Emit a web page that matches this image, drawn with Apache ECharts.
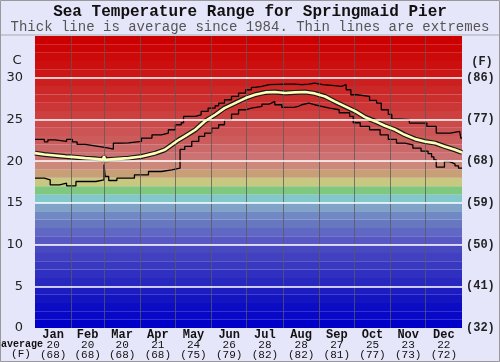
<!DOCTYPE html>
<html><head><meta charset="utf-8">
<script src="https://cdn.jsdelivr.net/npm/echarts@6/dist/echarts.min.js"></script>
<style>html,body{margin:0;padding:0;background:#e6e6fa}#c{width:500px;height:362px}</style>
</head><body><div id="c"></div><script>
// ---------- data ----------
var months = ['Jan','Feb','Mar','Apr','May','Jun','Jul','Aug','Sep','Oct','Nov','Dec'];
var monthMidDays = [15.5,45,74.5,105,135.5,166,196.5,227.5,258,288.5,319,349.5];
var monthStartDays = [31,59,90,120,151,181,212,243,273,304,334];
var monthAvgC = [20,20,20,21,24,26,28,28,27,25,23,22];
var monthAvgF = [68,68,68,68,75,79,82,82,81,77,73,72];
var yTicksC = [0,5,10,15,20,25,30];

var avgDays = [0,8,17,26,34,43,51,58,59,60,68,80,91,103,111,117,123,128,137,145,154,162,171,180,188,197,205,214,222,231,239,248,256,265,274,282,291,299,308,316,325,333,342,350,359,365];
var avgTemps = [20.96,20.8,20.68,20.56,20.48,20.36,20.28,20.18,20.55,20.16,20.24,20.36,20.56,20.96,21.36,21.96,22.56,22.96,23.76,24.76,25.56,26.36,26.96,27.56,27.96,28.24,28.28,28.16,28.24,28.28,28.12,27.75,27.16,26.56,25.96,25.28,24.76,24.24,23.76,23.16,22.64,22.36,22.16,21.76,21.36,21.04];

var maxDays = [0,8,11,17,27,32,36,43,51,58,63,67,74,80,91,100,108,114,120,125,127,137,142,148,154,157,162,168,174,180,185,188,194,200,214,222,228,234,239,246,256,262,266,270,275,286,292,296,302,305,312,320,335,343,355,363,364,365];
var maxTemps = [22.6,22.3,22.56,22.36,22.6,22.3,22.0,21.84,21.68,21.56,21.44,22.16,22.2,22.36,22.76,23.16,23.36,23.76,24.36,24.6,25.36,25.56,25.96,26.36,26.64,26.96,27.36,27.76,28.16,28.56,28.84,28.96,29.16,29.24,29.24,29.16,29.24,29.36,29.16,29.04,28.96,29.16,28.56,27.96,27.76,27.28,26.96,26.16,25.6,25.04,24.96,24.56,24.16,23.36,23.56,23.36,22.76,22.76];

var minDays = [0,8,13,21,27,35,52,59,60,63,70,85,97,108,117,124,128,134,140,145,151,157,162,168,174,180,185,194,200,202,205,211,217,222,225,228,234,239,245,252,260,269,272,278,286,295,302,309,316,323,330,336,339,341,343,350,353,356,359,362,365];
var minTemps = [17.96,17.76,17.16,17.36,17.04,17.56,17.76,19.6,18.16,17.68,17.96,18.36,18.76,18.96,19.16,21.4,21.76,22.36,22.96,23.36,23.96,24.36,24.96,25.64,26.16,26.36,26.56,26.84,26.96,27.16,26.76,26.44,26.48,26.56,26.76,26.96,26.76,26.56,26.36,26.16,25.8,25.36,24.6,24.16,23.76,23.16,22.6,22.16,21.96,21.56,21.2,20.9,20.5,20.16,19.28,19.96,19.84,19.68,19.44,19.16,19.16];

// ---------- styles ----------
var bandColors = [ // from 0-1 C upward to 34-35 C
 '#0000c8','#0808c8','#0c0cc4','#1414c0','#1c1cc0','#2828c0','#3030c0','#3838c0','#4040c0','#4848c0',
 '#5858c4','#6068c4','#6878c0','#7088c4','#80a4c8','#80c8cc','#80c880','#c8c880','#c8a078','#cc8878',
 '#cc7272','#cc6868','#cc5c5c','#cc5454','#cc4a4a','#cc4040','#cc3636','#cc2e2e','#cc2828','#cc2020',
 '#cc1616','#cc1010','#cc0a0a','#cc0404','#cc0000'];

function zip(a,b){ return a.map(function(v,i){ return [v,b[i]]; }); }

var chart = echarts.init(document.getElementById('c'));
var bands = bandColors.map(function(c,i){ return [{yAxis:i, itemStyle:{color:c}},{yAxis:i+1}]; });
var gridLines = monthStartDays.map(function(d){ return {xAxis:d, lineStyle:{color:'#5a5a5a', width:1, opacity:0.75, type:'solid'}}; })
  .concat([5,10,15,20,25,30].map(function(v){ return {yAxis:v, lineStyle:{color:'#ffffff', width:1.5, type:'solid'}}; }));

var mono = 'Liberation Mono';
chart.setOption({
  animation:false,
  backgroundColor:'#e6e6fa',
  grid:{left:35, right:38, top:36, bottom:34},
  xAxis:{type:'value', min:0, max:365, splitLine:{show:false}, axisLine:{show:false}, axisTick:{show:false},
    axisLabel:{customValues:monthMidDays, margin:1,
      formatter:function(v){ var b=0; for(var k=0;k<monthMidDays.length;k++){ if(Math.abs(monthMidDays[k]-v)<Math.abs(monthMidDays[b]-v)) b=k; }
        return '{m|'+months[b]+'}\n{v|'+monthAvgC[b]+'}\n{f|('+monthAvgF[b]+')}'; },
      rich:{ m:{fontFamily:mono, fontWeight:'bold', fontSize:12, lineHeight:11, color:'#111'},
             v:{fontFamily:mono, fontSize:11, lineHeight:10, color:'#111'},
             f:{fontFamily:mono, fontSize:11, lineHeight:10, color:'#111'} } } },
  yAxis:[
    {type:'value', min:0, max:35, interval:5, position:'left', splitLine:{show:false}, axisLine:{show:false}, axisTick:{show:false},
     axisLabel:{margin:12, fontFamily:'DejaVu Sans', fontSize:13, color:'#222', formatter:function(v){ return yTicksC.indexOf(v)>=0 ? String(v) : ''; }}},
    {type:'value', min:0, max:35, interval:5, position:'right', splitLine:{show:false}, axisLine:{show:false}, axisTick:{show:false},
     axisLabel:{margin:4, fontFamily:mono, fontWeight:'bold', fontSize:12, color:'#222', formatter:function(v){ return yTicksC.indexOf(v)>=0 ? '('+Math.round(v*9/5+32)+')' : ''; }}}
  ],
  series:[
    {type:'line', z:1, silent:true, data:[[0,0]], symbol:'none', lineStyle:{opacity:0},
     markArea:{silent:true, data:bands}},
    {type:'line', z:2, silent:true, data:[[0,0]], symbol:'none', lineStyle:{opacity:0},
     markLine:{silent:true, symbol:'none', label:{show:false}, data:gridLines}},
    {type:'line', z:3, data:zip(maxDays,maxTemps), step:'end', symbol:'none', lineStyle:{color:'#000', width:1.3}},
    {type:'line', z:3, data:zip(minDays,minTemps), step:'end', symbol:'none', lineStyle:{color:'#000', width:1.3}},
    {type:'line', z:4, data:zip(avgDays,avgTemps), symbol:'none', lineStyle:{color:'#1a1a1a', width:5}},
    {type:'line', z:5, data:zip(avgDays,avgTemps), symbol:'none', lineStyle:{color:'#ffffb8', width:2.6}}
  ],
  graphic:[
    {type:'line', shape:{x1:0,y1:35,x2:500,y2:35}, style:{stroke:'#aaaaaa', lineWidth:1}, z:-1},
    {type:'rect', shape:{x:0.5,y:0.5,width:499,height:361}, style:{fill:null, stroke:'#999', lineWidth:1}},
    {type:'text', x:250, y:12, style:{text:'Sea Temperature Range for Springmaid Pier', font:'bold 16px "Liberation Mono"', fill:'#111', align:'center', verticalAlign:'middle'}},
    {type:'text', x:250, y:27, style:{text:'Thick line is average since 1984. Thin lines are extremes', font:'14px "Liberation Mono"', fill:'#555', align:'center', verticalAlign:'middle'}},
    {type:'text', x:17, y:61, style:{text:'C', font:'13px "DejaVu Sans"', fill:'#222', align:'center', verticalAlign:'middle'}},
    {type:'text', x:482, y:62, style:{text:'(F)', font:'bold 12px "Liberation Mono"', fill:'#222', align:'center', verticalAlign:'middle'}},
    {type:'text', x:22, y:344, style:{text:'average', font:'bold 10px "Liberation Mono"', fill:'#111', align:'center', verticalAlign:'middle'}},
    {type:'text', x:21, y:354, style:{text:'(F)', font:'11px "Liberation Mono"', fill:'#111', align:'center', verticalAlign:'middle'}}
  ]
});
</script></body></html>
